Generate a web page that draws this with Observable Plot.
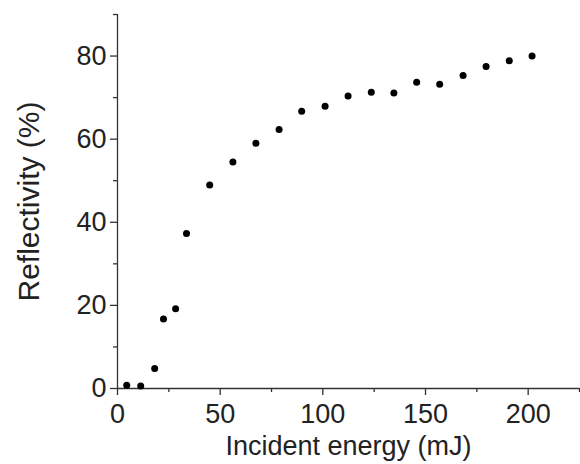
<!DOCTYPE html>
<html>
<head>
<meta charset="utf-8">
<script src="https://cdn.jsdelivr.net/npm/d3@7"></script>
<script src="https://cdn.jsdelivr.net/npm/@observablehq/plot@0.6"></script>
<style>
  html, body { margin: 0; padding: 0; background: #fff; }
  #chart { width: 580px; height: 464px; }
</style>
</head>
<body>
<div id="chart"></div>
<script>
const energy = [4.5, 11.3, 18.1, 22.4, 28.3, 33.6, 44.9, 56.2, 67.4, 78.7, 89.7, 101.1, 112.3, 123.6, 134.6, 145.7, 156.9, 168.3, 179.5, 190.8, 201.9];
const reflectivity = [0.8, 0.6, 4.8, 16.7, 19.2, 37.3, 49.0, 54.5, 59.0, 62.3, 66.7, 67.9, 70.4, 71.3, 71.1, 73.7, 73.2, 75.3, 77.5, 78.9, 80.0];
const xMajorTicks = [0, 50, 100, 150, 200];
const xMinorTicks = [25, 75, 125, 175, 225];
const yMajorTicks = [0, 20, 40, 60, 80];
const yMinorTicks = [10, 30, 50, 70, 90];
const xTitle = "Incident energy (mJ)";
const yTitle = "Reflectivity (%)";

const data = energy.map((e, i) => ({energy: e, reflectivity: reflectivity[i]}));
const axisColor = "#333";

const chart = Plot.plot({
  width: 580,
  height: 464,
  marginLeft: 117,
  marginRight: 1,
  marginTop: 14,
  marginBottom: 76,
  style: {fontFamily: "'Liberation Sans', Arial, sans-serif", background: "#fff", color: "#222"},
  x: {domain: [0, 225]},
  y: {domain: [0, 90]},
  marks: [
    Plot.axisX({ticks: xMajorTicks, tickSize: 7, tickPadding: 8, fontSize: 27, stroke: axisColor, strokeWidth: 1.3, label: null, tickFormat: d => d}),
    Plot.axisX({ticks: xMinorTicks, tickSize: 4, text: null, stroke: axisColor, strokeWidth: 1.3, label: null}),
    Plot.axisX({ticks: [], label: xTitle, labelAnchor: "center", labelArrow: "none", labelOffset: 66, fontSize: 27}),
    Plot.axisY({ticks: yMajorTicks, tickSize: 7, tickPadding: 4, fontSize: 27, stroke: axisColor, strokeWidth: 1.3, label: null, tickFormat: d => d}),
    Plot.axisY({ticks: yMinorTicks, tickSize: 4, text: null, stroke: axisColor, strokeWidth: 1.3, label: null}),
    Plot.axisY({ticks: [], label: yTitle, labelAnchor: "center", labelArrow: "none", labelOffset: 100, fontSize: 30}),
    Plot.ruleX([0], {stroke: axisColor, strokeWidth: 1.3}),
    Plot.ruleY([0], {stroke: axisColor, strokeWidth: 1.3}),
    Plot.dot(data, {x: "energy", y: "reflectivity", r: 3.5, fill: "#000", stroke: null})
  ]
});
document.getElementById("chart").appendChild(chart);
</script>
</body>
</html>
